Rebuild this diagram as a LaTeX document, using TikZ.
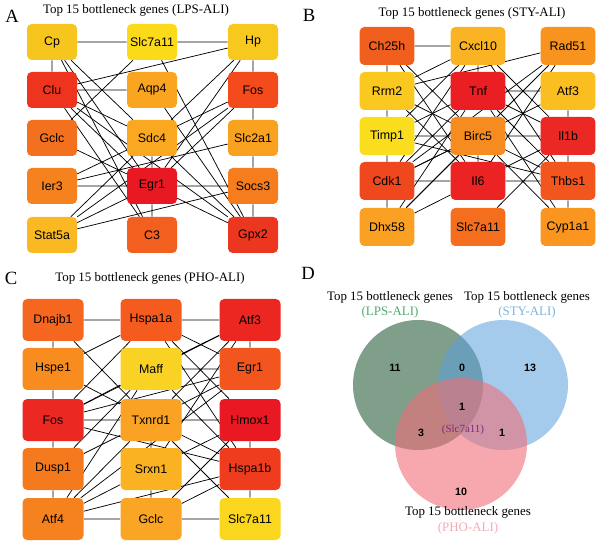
\documentclass[tikz,border=0pt]{standalone}
\usepackage{fontspec}
\setmainfont{Liberation Serif}
\newfontfamily\genefont{Liberation Sans}
\usetikzlibrary{backgrounds}

\tikzset{
  gene/.style={rounded corners=3.5pt, inner sep=0pt, text=black, font=\genefont\fontsize{9.3}{10}\selectfont},
  geneA/.style={gene, minimum width=37.5pt, minimum height=27pt},
  geneB/.style={gene, minimum width=41pt, minimum height=28.5pt},
  geneC/.style={gene, minimum width=45.75pt, minimum height=31.5pt},
  link/.style={line width=0.55pt, black},
  ttl/.style={inner sep=0pt, font=\fontsize{9.7}{11}\selectfont},
  panel/.style={inner sep=0pt, font=\fontsize{14}{16}\selectfont},
  cnt/.style={inner sep=0pt, font=\genefont\bfseries\fontsize{8}{9}\selectfont}
}

\begin{document}
\begin{tikzpicture}[x=0.75pt,y=0.75pt,yscale=-1,xscale=1]
\useasboundingbox (0,0) rectangle (600,545);

% Panel A
\node[panel] (lA) at (12,16) {A};
\node[ttl] (tA) at (136,10) {Top 15 bottleneck genes (LPS-ALI)};
\node[geneA, fill={rgb, 255:red, 247; green, 198; blue, 30 }] (aCp) at (52,42) {Cp};
\node[geneA, fill={rgb, 255:red, 250; green, 218; blue, 25 }] (aSlc) at (152,42) {Slc7a11};
\node[geneA, fill={rgb, 255:red, 247; green, 200; blue, 30 }] (aHp) at (253,42) {Hp};
\node[geneA, fill={rgb, 255:red, 238; green, 52; blue, 30 }] (aClu) at (52,90) {Clu};
\node[geneA, fill={rgb, 255:red, 249; green, 165; blue, 32 }] (aAqp) at (152,90) {Aqp4};
\node[geneA, fill={rgb, 255:red, 243; green, 75; blue, 28 }] (aFos) at (253,90) {Fos};
\node[geneA, fill={rgb, 255:red, 243; green, 112; blue, 30 }] (aGclc) at (52,138) {Gclc};
\node[geneA, fill={rgb, 255:red, 249; green, 168; blue, 32 }] (aSdc) at (152,138) {Sdc4};
\node[geneA, fill={rgb, 255:red, 249; green, 162; blue, 32 }] (aSlcb) at (253,138) {Slc2a1};
\node[geneA, fill={rgb, 255:red, 245; green, 130; blue, 30 }] (aIer) at (52,186) {Ier3};
\node[geneA, fill={rgb, 255:red, 233; green, 25; blue, 35 }] (aEgr) at (152,186) {Egr1};
\node[geneA, fill={rgb, 255:red, 245; green, 125; blue, 30 }] (aSocs) at (253,186) {Socs3};
\node[geneA, fill={rgb, 255:red, 250; green, 185; blue, 35 }] (aStat) at (52,235) {Stat5a};
\node[geneA, fill={rgb, 255:red, 243; green, 95; blue, 30 }] (aC) at (152,235) {C3};
\node[geneA, fill={rgb, 255:red, 236; green, 55; blue, 32 }] (aGpx) at (253,235) {Gpx2};
\begin{scope}[on background layer]
\draw[link] (aCp) -- (aSlc) (aSlc) -- (aHp) (aCp) -- (aClu) (aCp) -- (aSdc) (aCp) -- (aEgr) (aCp) -- (aC);
\draw[link] (aSlc) -- (aGclc) (aSlc) -- (aGpx) (aHp) -- (aClu) (aHp) -- (aFos) (aHp) -- (aSdc) (aHp) -- (aEgr);
\draw[link] (aClu) -- (aAqp) (aClu) -- (aSdc) (aClu) -- (aEgr) (aClu) -- (aC) (aClu) -- (aGpx);
\draw[link] (aFos) -- (aSdc) (aFos) -- (aEgr) (aFos) -- (aSlcb) (aFos) -- (aStat) (aAqp) -- (aGpx) (aGclc) -- (aEgr);
\draw[link] (aSdc) -- (aIer) (aSdc) -- (aEgr) (aSdc) -- (aStat) (aSdc) -- (aGpx) (aIer) -- (aEgr) (aIer) -- (aSlcb);
\draw[link] (aEgr) -- (aSocs) (aEgr) -- (aC) (aEgr) -- (aGpx) (aEgr) -- (aStat) (aStat) -- (aSocs) (aSlcb) -- (aSocs) (aSocs) -- (aGpx);
\end{scope}

% Panel B
\node[panel] (lB) at (309,15) {B};
\node[ttl] (tB) at (472,13) {Top 15 bottleneck genes (STY-ALI)};
\node[geneB, fill={rgb, 255:red, 240; green, 95; blue, 30 }] (bCh) at (387,46) {Ch25h};
\node[geneB, fill={rgb, 255:red, 250; green, 180; blue, 35 }] (bCx) at (478,46) {Cxcl10};
\node[geneB, fill={rgb, 255:red, 248; green, 148; blue, 30 }] (bRad) at (568,46) {Rad51};
\node[geneB, fill={rgb, 255:red, 250; green, 200; blue, 30 }] (bRrm) at (387,91) {Rrm2};
\node[geneB, fill={rgb, 255:red, 234; green, 30; blue, 35 }] (bTnf) at (478,91) {Tnf};
\node[geneB, fill={rgb, 255:red, 250; green, 190; blue, 32 }] (bAtf) at (568,91) {Atf3};
\node[geneB, fill={rgb, 255:red, 250; green, 222; blue, 30 }] (bTimp) at (387,136) {Timp1};
\node[geneB, fill={rgb, 255:red, 246; green, 140; blue, 32 }] (bBirc) at (478,136) {Birc5};
\node[geneB, fill={rgb, 255:red, 235; green, 40; blue, 35 }] (bIlb) at (568,136) {Il1b};
\node[geneB, fill={rgb, 255:red, 240; green, 72; blue, 30 }] (bCdk) at (387,181) {Cdk1};
\node[geneB, fill={rgb, 255:red, 235; green, 35; blue, 35 }] (bIl) at (478,181) {Il6};
\node[geneB, fill={rgb, 255:red, 242; green, 85; blue, 30 }] (bThbs) at (568,181) {Thbs1};
\node[geneB, fill={rgb, 255:red, 250; green, 160; blue, 35 }] (bDhx) at (387,227) {Dhx58};
\node[geneB, fill={rgb, 255:red, 245; green, 110; blue, 30 }] (bSlc) at (478,227) {Slc7a11};
\node[geneB, fill={rgb, 255:red, 250; green, 150; blue, 32 }] (bCyp) at (568,227) {Cyp1a1};
\begin{scope}[on background layer]
\draw[link] (bCh) -- (bCx) (bCh) -- (bRrm) (bCh) -- (bBirc) (bCh) -- (bIl);
\draw[link] (bCx) -- (bTnf) (bCx) -- (bRrm) (bCx) -- (bTimp) (bCx) -- (bIlb) (bCx) -- (bThbs) (bCx) -- (bCdk);
\draw[link] (bRad) -- (bRrm) (bRad) -- (bBirc) (bRad) -- (bCdk) (bRad) -- (bDhx) (bRad) -- (bIl);
\draw[link] (bRrm) -- (bTimp) (bRrm) -- (bThbs) (bRrm) -- (bIl);
\draw[link] (bTnf) -- (bAtf) (bTnf) -- (bTimp) (bTnf) -- (bCdk) (bTnf) -- (bDhx) (bTnf) -- (bIlb) (bTnf) -- (bThbs) (bTnf) -- (bCyp);
\draw[link] (bAtf) -- (bIlb) (bAtf) -- (bCdk) (bTimp) -- (bBirc) (bTimp) -- (bCdk) (bTimp) -- (bThbs) (bDhx) -- (bTimp);
\draw[link] (bBirc) -- (bIlb) (bBirc) -- (bIl) (bBirc) -- (bDhx) (bBirc) -- (bCyp) (bBirc) -- (bCdk);
\draw[link] (bIlb) -- (bThbs) (bIlb) -- (bIl) (bIlb) -- (bSlc) (bCdk) -- (bIl) (bIl) -- (bThbs) (bIl) -- (bDhx) (bThbs) -- (bCyp);
\end{scope}

% Panel C
\node[panel] (lC) at (11,278) {C};
\node[ttl] (tC) at (150,278) {Top 15 bottleneck genes (PHO-ALI)};
\node[geneC, fill={rgb, 255:red, 245; green, 102; blue, 30 }] (cDna) at (53,320) {Dnajb1};
\node[geneC, fill={rgb, 255:red, 245; green, 90; blue, 30 }] (cHa) at (151,320) {Hspa1a};
\node[geneC, fill={rgb, 255:red, 236; green, 38; blue, 32 }] (cAtf) at (250,320) {Atf3};
\node[geneC, fill={rgb, 255:red, 248; green, 140; blue, 30 }] (cHspe) at (53,369) {Hspe1};
\node[geneC, fill={rgb, 255:red, 250; green, 210; blue, 35 }] (cMaff) at (151,369) {Maff};
\node[geneC, fill={rgb, 255:red, 242; green, 85; blue, 30 }] (cEgr) at (250,369) {Egr1};
\node[geneC, fill={rgb, 255:red, 236; green, 40; blue, 35 }] (cFos) at (53,420) {Fos};
\node[geneC, fill={rgb, 255:red, 250; green, 162; blue, 35 }] (cTx) at (151,420) {Txnrd1};
\node[geneC, fill={rgb, 255:red, 232; green, 25; blue, 35 }] (cHmox) at (250,420) {Hmox1};
\node[geneC, fill={rgb, 255:red, 245; green, 122; blue, 30 }] (cDusp) at (53,469) {Dusp1};
\node[geneC, fill={rgb, 255:red, 250; green, 178; blue, 35 }] (cSrx) at (151,469) {Srxn1};
\node[geneC, fill={rgb, 255:red, 240; green, 60; blue, 30 }] (cHb) at (250,469) {Hspa1b};
\node[geneC, fill={rgb, 255:red, 245; green, 130; blue, 30 }] (cAtfd) at (53,519) {Atf4};
\node[geneC, fill={rgb, 255:red, 250; green, 165; blue, 35 }] (cGclc) at (151,519) {Gclc};
\node[geneC, fill={rgb, 255:red, 250; green, 215; blue, 30 }] (cSlc) at (250,519) {Slc7a11};
\begin{scope}[on background layer]
\draw[link] (cDna) -- (cHa) (cHa) -- (cAtf) (cDna) -- (cHspe) (cDna) -- (cTx);
\draw[link] (cHa) -- (cHspe) (cHa) -- (cFos) (cHa) -- (cEgr) (cHa) -- (cHmox) (cHa) -- (cHb);
\draw[link] (cAtf) -- (cEgr) (cAtf) -- (cMaff) (cAtf) -- (cFos) (cAtf) -- (cTx) (cAtf) -- (cSrx);
\draw[link] (cHspe) -- (cFos) (cHspe) -- (cTx) (cMaff) -- (cEgr) (cMaff) -- (cFos) (cMaff) -- (cAtfd) (cMaff) -- (cHb) (cMaff) -- (cDusp);
\draw[link] (cEgr) -- (cFos) (cEgr) -- (cTx) (cEgr) -- (cAtfd) (cFos) -- (cTx) (cFos) -- (cDusp) (cFos) -- (cHb);
\draw[link] (cTx) -- (cHmox) (cTx) -- (cHb) (cTx) -- (cSrx) (cTx) -- (cSlc) (cTx) -- (cDusp) (cTx) -- (cAtfd);
\draw[link] (cHmox) -- (cHb) (cHmox) -- (cSrx) (cHmox) -- (cGclc) (cDusp) -- (cAtfd) (cSrx) -- (cAtfd) (cSrx) -- (cGclc);
\draw[link] (cAtfd) -- (cGclc) (cAtfd) -- (cHb) (cGclc) -- (cSlc) (cGclc) -- (cHb) (cHb) -- (cSlc);
\end{scope}

% Panel D
\node[panel] (lD) at (308,273) {D};
%Shape: Circle
\fill[fill={rgb, 255:red, 95; green, 135; blue, 110 }, fill opacity=0.8] (418,385) circle (48.75pt);
%Shape: Circle
\fill[fill={rgb, 255:red, 90; green, 160; blue, 220 }, fill opacity=0.55] (503,385) circle (48.75pt);
%Shape: Circle
\fill[fill={rgb, 255:red, 240; green, 110; blue, 120 }, fill opacity=0.6] (461,444) circle (49.5pt);
% Text Node
\node[ttl] (vLps) at (390,297) {Top 15 bottleneck genes};
\node[ttl, text={rgb, 255:red, 80; green, 170; blue, 110 }] (vLpsb) at (390,312) {(LPS-ALI)};
\node[ttl] (vSty) at (527,297) {Top 15 bottleneck genes};
\node[ttl, text={rgb, 255:red, 120; green, 180; blue, 222 }] (vStyb) at (527,312) {(STY-ALI)};
\node[ttl] (vPho) at (468,512) {Top 15 bottleneck genes};
\node[ttl, text={rgb, 255:red, 242; green, 170; blue, 180 }] (vPhob) at (468,528) {(PHO-ALI)};
% Counts
\node[cnt] (nA) at (395,368) {11};
\node[cnt] (nAB) at (462,368) {0};
\node[cnt] (nB) at (530,368) {13};
\node[cnt] (nABC) at (462,407) {1};
\node[inner sep=0pt, font=\fontsize{8.2}{9}\selectfont, text={rgb, 255:red, 130; green, 40; blue, 130 }] (nGene) at (463,430) {(Slc7a11)};
\node[cnt] (nAC) at (421,433) {3};
\node[cnt] (nBC) at (502,433) {1};
\node[cnt] (nC) at (461,492) {10};

\end{tikzpicture}
\end{document}
